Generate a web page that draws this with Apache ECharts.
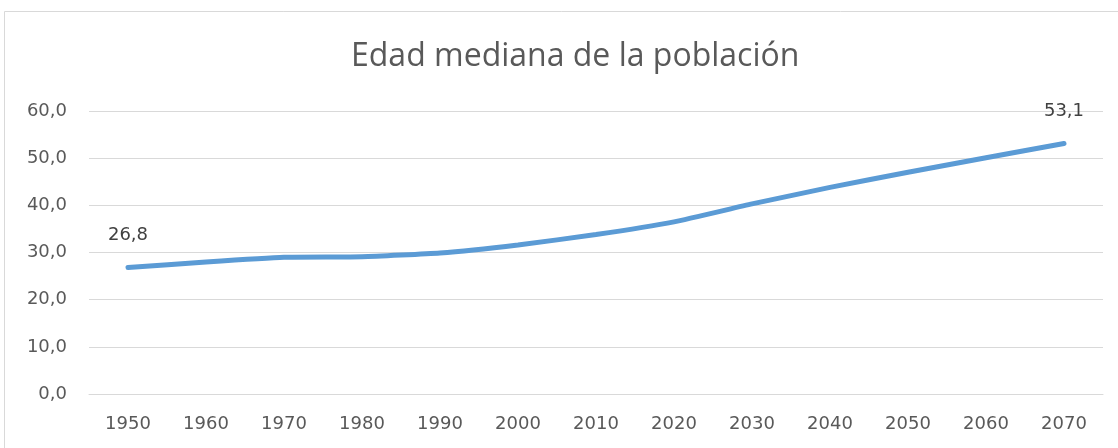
<!DOCTYPE html>
<html><head><meta charset="utf-8">
<script src="https://cdn.jsdelivr.net/npm/echarts@6/dist/echarts.min.js"></script>
<style>html,body{margin:0;padding:0;background:#fff}#c{width:1118px;height:448px}</style>
</head><body><div id="c"></div>
<script>
const categories = ['1950','1960','1970','1980','1990','2000','2010','2020','2030','2040','2050','2060','2070'];
const medianAge = [26.8, 28.0, 29.0, 29.1, 29.9, 31.6, 33.8, 36.5, 40.3, 43.8, 47.0, 50.1, 53.1];
const labelledPoints = [0, 12];

const chart = echarts.init(document.getElementById('c'), null, {renderer: 'canvas'});
const fmt = v => v.toFixed(1).replace('.', ',');
chart.setOption({
  animation: false,
  backgroundColor: '#fff',
  graphic: [{type: 'rect', shape: {x: 4.5, y: 11.5, width: 1200, height: 500}, style: {fill: 'none', stroke: '#d9d9d9', lineWidth: 1}, silent: true}],
  title: {text: 'Edad mediana de la población', left: 346, top: 36,
    textStyle: {fontFamily: 'Open Sans', fontSize: 32, fontWeight: 'normal', color: '#595959'}},
  grid: {left: 89, right: 15, top: 111, bottom: 54, containLabel: false},
  xAxis: {type: 'category', data: categories, boundaryGap: true,
    axisLine: {lineStyle: {color: '#d9d9d9', width: 1}}, axisTick: {show: false},
    axisLabel: {color: '#595959', fontFamily: 'DejaVu Sans', fontSize: 18, margin: 21}},
  yAxis: {type: 'value', min: 0, max: 60, interval: 10,
    axisLine: {show: false}, axisTick: {show: false},
    splitLine: {lineStyle: {color: '#d9d9d9', width: 1}},
    axisLabel: {color: '#595959', fontFamily: 'DejaVu Sans', fontSize: 18, margin: 22, formatter: v => fmt(v)}},
  series: [{type: 'line', data: medianAge,
    symbol: 'circle', symbolSize: 2, showSymbol: true, showAllSymbol: true,
    itemStyle: {color: 'rgba(91,155,213,0)', borderWidth: 0}, smooth: 0.15,
    lineStyle: {color: '#5b9bd5', width: 5, cap: 'round'},
    label: {show: true, position: 'top', distance: 22, color: '#404040', fontFamily: 'DejaVu Sans', fontSize: 18,
      formatter: p => labelledPoints.includes(p.dataIndex) ? fmt(p.value) : ''}}]
});
</script></body></html>
